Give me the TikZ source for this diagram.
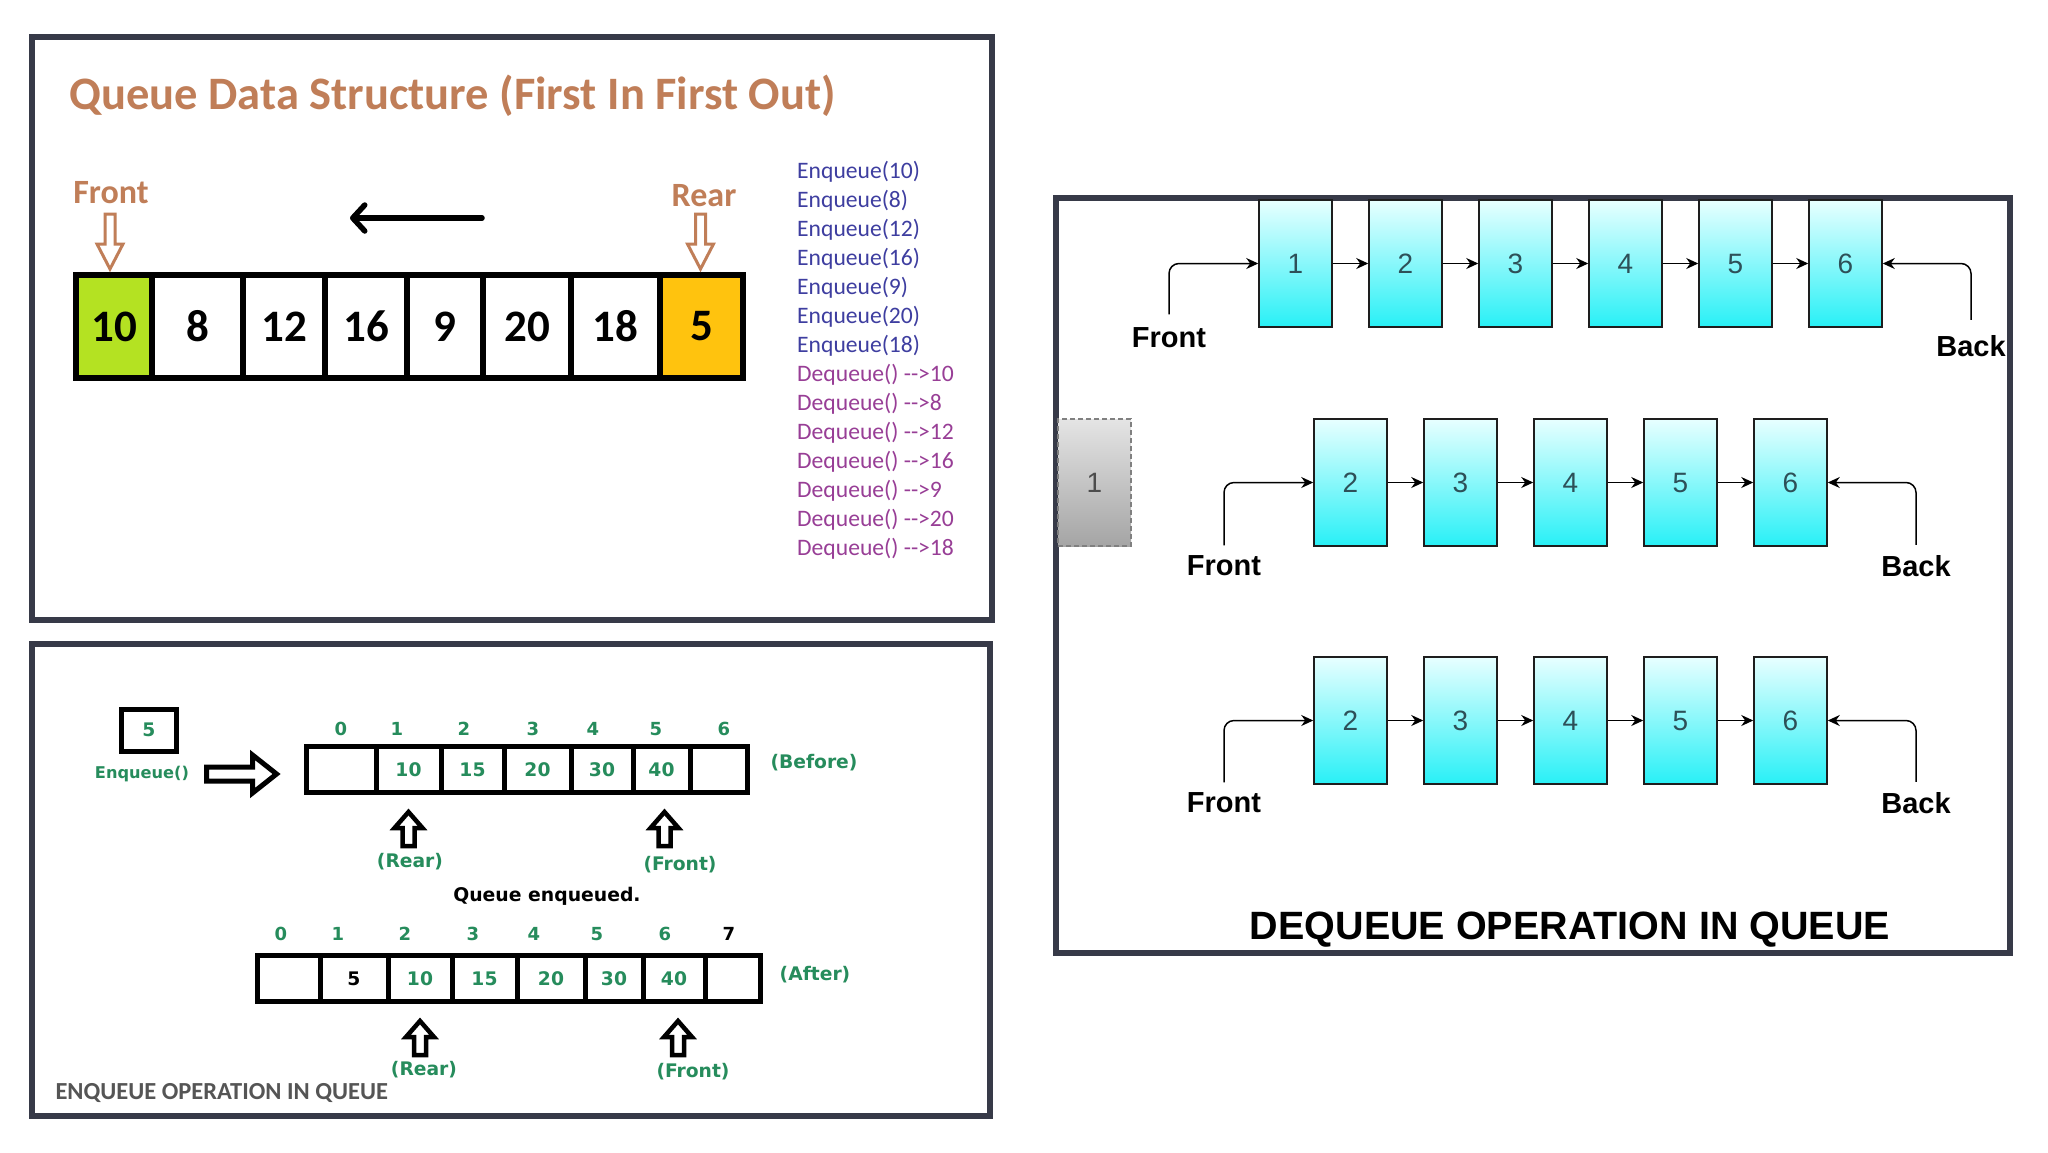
\documentclass[tikz,border=0pt]{standalone}
\usepackage{fontspec}
\setmainfont{Carlito}
\newfontfamily\arialfont{Liberation Sans}
\newfontfamily\verdfont{DejaVu Sans}
\usetikzlibrary{arrows.meta,positioning}

\definecolor{panelline}{RGB}{55,58,72}
\definecolor{titlebrown}{RGB}{192,126,88}
\definecolor{frontgreen}{RGB}{180,226,34}
\definecolor{reargold}{RGB}{255,195,14}
\definecolor{enqblue}{RGB}{62,62,160}
\definecolor{deqpurple}{RGB}{152,62,150}
\definecolor{opgreen}{RGB}{38,140,92}
\definecolor{celltop}{RGB}{232,255,255}
\definecolor{cellbot}{RGB}{40,240,246}
\definecolor{celltext}{RGB}{45,80,88}
\definecolor{boxline}{RGB}{30,30,30}
\definecolor{gonetop}{RGB}{228,228,228}
\definecolor{gonebot}{RGB}{165,165,165}
\definecolor{captiongray}{RGB}{85,85,85}

\begin{document}
\begin{tikzpicture}[x=1pt, y=-1pt,
    panel/.style={draw=panelline, line width=6pt},
    bigcell/.style={draw, line width=6pt, minimum height=103pt, inner sep=0pt,
      font=\bfseries\fontsize{45}{50}\selectfont},
    tag/.style={text=titlebrown, font=\bfseries\fontsize{34}{38}\selectfont},
    brownhollow/.style={draw=titlebrown, line width=3pt, fill=white},
    oplist/.style={anchor=west, inner sep=0pt, font=\fontsize{23.6}{26}\selectfont},
    slot/.style={draw, line width=5pt, minimum height=46pt, inner sep=0pt,
      font=\verdfont\bfseries\fontsize{18.7}{20}\selectfont},
    idx/.style={text=opgreen, font=\verdfont\bfseries\fontsize{18}{20}\selectfont},
    greenlab/.style={text=opgreen, font=\verdfont\bfseries\fontsize{18.7}{20}\selectfont},
    blackhollow/.style={draw, line width=4.5pt, fill=white},
    qbox/.style={draw=boxline, line width=1.5pt, minimum width=73pt, minimum height=127pt,
      top color=celltop, bottom color=cellbot, text=celltext,
      font=\arialfont\fontsize{28}{30}\selectfont},
    endlab/.style={font=\arialfont\bfseries\fontsize{29}{32}\selectfont},
    link/.style={line width=1.5pt, -{Stealth[length=12pt,width=11pt]}}
  ]
  \fill[white] (0,0) rectangle (2048,1152);
  \useasboundingbox (0,0) rectangle (2048,1152);

  \draw[panel] (32,37) rectangle (992,620);
  \draw[panel] (32,644) rectangle (990,1116);
  \draw[panel] (1056,198) rectangle (2010,953);

  % FIFO queue
  \node[anchor=west, text=titlebrown, font=\bfseries\fontsize{46.5}{52}\selectfont] (title) at (66,96)
    {Queue Data Structure (First In First Out)};
  \foreach \l/\r/\v/\c [count=\i] in {76/152/10/frontgreen, 152/243/8/white, 243/325/12/white,
      325/407/16/white, 407/483/9/white, 483/571/20/white, 571/660/18/white, 660/743/5/reargold}
    \node[bigcell, fill=\c, minimum width=\r-\l] (q\i) at ({(\l+\r)/2},326.5) {\v};
  \node[tag] (frontlab) at (111,193) {Front};
  \node[tag] (rearlab) at (704,196) {Rear};
  \draw[brownhollow] (q1.north) ++(-9,-58) -- ++(10,0) -- ++(0,30) -- ++(8,0) -- ++(-13,25)
    -- ++(-13,-25) -- ++(8,0) -- cycle;
  \draw[brownhollow] (q8.north) ++(-6,-58) -- ++(10,0) -- ++(0,30) -- ++(8,0) -- ++(-13,25)
    -- ++(-13,-25) -- ++(8,0) -- cycle;
  \coordinate (flowtail) at (482,218);
  \coordinate (flowhead) at (350,218);
  \draw[line width=5.5pt, line cap=round, -{Straight Barb[length=12pt,width=26pt,round]}] (flowtail) -- (flowhead);

  \foreach \t [count=\i from 0] in {10,8,12,16,9,20,18}
    \node[oplist, text=enqblue] (enq\i) at (797,{172+29*\i}) {Enqueue(\t)};
  \foreach \t [count=\i from 7] in {10,8,12,16,9,20,18}
    \node[oplist, text=deqpurple] (deq\i) at (797,{172+29*\i}) {Dequeue() {-}{-}>\t};

  % enqueue
  \node[draw, line width=5pt, minimum width=55pt, minimum height=42pt, greenlab] (newitem) at (149,730) {5};
  \node[text=opgreen, font=\verdfont\bfseries\fontsize{16.2}{18}\selectfont] (enqcall) at (142,774) {Enqueue()};
  \draw[line width=5pt, fill=white] (enqcall.east) ++(14,-7) -- ++(46,0) -- ++(0,-12) -- ++(24,19)
    -- ++(-24,19) -- ++(0,-12) -- ++(-46,0) -- cycle;

  \foreach \l/\r/\v [count=\i from 0] in {306.5/376/{}, 376/441/10, 441/504/15, 504/571/20,
      571/633/30, 633/690/40, 690/747.5/{}}
    \node[slot, text=opgreen, minimum width=\r-\l] (b\i) at ({(\l+\r)/2},769.5) {\v};
  \foreach \x [count=\i from 0] in {341,397,464,533,593,656,724}
    \node[idx] (bi\i) at (\x,729) {\i};
  \node[greenlab] (before) at (814,763) {(Before)};
  \draw[blackhollow] (b1.south) ++(0,17) -- ++(14,16) -- ++(-8,0) -- ++(0,18) -- ++(-12,0)
    -- ++(0,-18) -- ++(-8,0) -- cycle;
  \draw[blackhollow] (b5.south) ++(3,17) -- ++(14,16) -- ++(-8,0) -- ++(0,18) -- ++(-12,0)
    -- ++(0,-18) -- ++(-8,0) -- cycle;
  \node[greenlab] (brear) at (410,862) {(Rear)};
  \node[greenlab] (bfront) at (680,865) {(Front)};
  \node[font=\verdfont\bfseries\fontsize{18.8}{20}\selectfont] (enqdone) at (547,896) {Queue enqueued.};

  \foreach \l/\r/\v/\c [count=\i from 0] in {257.5/320/{}/black, 320/388/5/black, 388/452/10/opgreen,
      452/517/15/opgreen, 517/585/20/opgreen, 585/643/30/opgreen, 643/705/40/opgreen, 705/760.5/{}/black}
    \node[slot, text=\c, minimum width=\r-\l] (a\i) at ({(\l+\r)/2},978.5) {\v};
  \foreach \x [count=\i from 0] in {281,338,405,473,534,597,665}
    \node[idx] (ai\i) at (\x,934) {\i};
  \node[idx, text=black] (ai7) at (729,934) {7};
  \node[greenlab] (after) at (815,975) {(After)};
  \draw[blackhollow] (a2.south) ++(0,17) -- ++(14,16) -- ++(-8,0) -- ++(0,18) -- ++(-12,0)
    -- ++(0,-18) -- ++(-8,0) -- cycle;
  \draw[blackhollow] (a6.south) ++(4,17) -- ++(14,16) -- ++(-8,0) -- ++(0,18) -- ++(-12,0)
    -- ++(0,-18) -- ++(-8,0) -- cycle;
  \node[greenlab] (arear) at (424,1070) {(Rear)};
  \node[greenlab] (afront) at (693,1072) {(Front)};
  \node[anchor=west, text=captiongray, font=\bfseries\fontsize{24.5}{28}\selectfont] (enqcap) at (52,1093)
    {ENQUEUE OPERATION IN QUEUE};

  % dequeue
  \foreach \n [count=\i from 0] in {1,...,6}
    \node[qbox] (r1n\n) at ({1295.5+110*\i},263.5) {\n};
  \foreach \n [count=\i from 0] in {2,...,6}
    \node[qbox] (r2n\n) at ({1350.5+110*\i},482.5) {\n};
  \foreach \n [count=\i from 0] in {2,...,6}
    \node[qbox] (r3n\n) at ({1350.5+110*\i},720.5) {\n};
  \node[qbox, draw=gray, dash pattern=on 5pt off 3pt, top color=gonetop, bottom color=gonebot,
    text=black!70] (gone) at (1094.5,482.5) {1};

  \foreach \a/\b in {1/2,2/3,3/4,4/5,5/6}
    \draw[link] (r1n\a) -- (r1n\b);
  \foreach \a/\b in {2/3,3/4,4/5,5/6} {
    \draw[link] (r2n\a) -- (r2n\b);
    \draw[link] (r3n\a) -- (r3n\b);
  }

  \node[endlab] (fr1) at (1169,338) {Front};
  \node[endlab] (bk1) at (1971,346) {Back};
  \node[endlab] (fr2) at (1224,566) {Front};
  \node[endlab] (bk2) at (1916,566) {Back};
  \node[endlab] (fr3) at (1224,803) {Front};
  \node[endlab] (bk3) at (1916,803) {Back};
  \draw[link, rounded corners=10pt] (fr1.north) ++(0,-10) |- (r1n1.west);
  \draw[link, rounded corners=10pt] (bk1.north) ++(0,-12) |- (r1n6.east);
  \draw[link, rounded corners=10pt] (fr2.north) ++(0,-7) |- (r2n2.west);
  \draw[link, rounded corners=10pt] (bk2.north) ++(0,-7) |- (r2n6.east);
  \draw[link, rounded corners=10pt] (fr3.north) ++(0,-7) |- (r3n2.west);
  \draw[link, rounded corners=10pt] (bk3.north) ++(0,-7) |- (r3n6.east);

  \node[font=\arialfont\bfseries\fontsize{39.5}{44}\selectfont] (deqcap) at (1570,930)
    {DEQUEUE OPERATION IN QUEUE};
\end{tikzpicture}
\end{document}
